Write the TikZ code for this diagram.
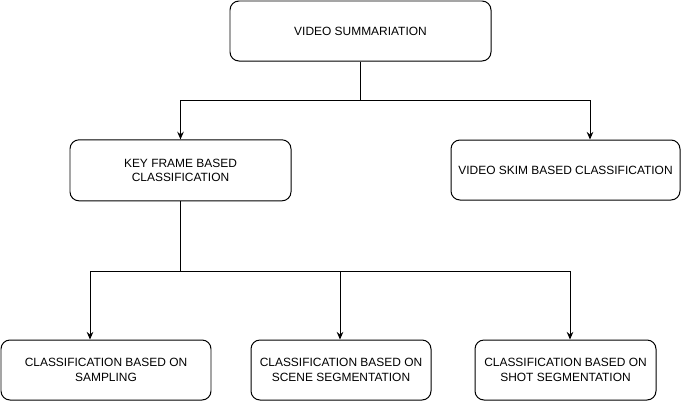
\documentclass[tikz,border=0pt]{standalone}
\usepackage{fontspec}
\setmainfont{Liberation Sans}
\usepackage{tikz}
\usetikzlibrary{arrows.meta, positioning, calc}

\begin{document}
\begin{tikzpicture}[
    box/.style={rectangle, rounded corners=0.27cm, draw, line width=0.85pt, align=center, minimum height=1.8cm, font=\fontsize{10.2}{12.4}\selectfont},
    arrow/.style={-{Stealth[length=2.3mm, width=2mm, inset=0.8mm]}, line width=0.85pt}
]
\useasboundingbox (0,0) rectangle (20.43,-12.03);

\node[box, minimum width=7.83cm] (summ) at (10.815,-0.93) {VIDEO SUMMARIATION};

\node[box, minimum width=6.63cm, minimum height=1.83cm] (keyframe) at (5.415,-5.11) {KEY FRAME BASED\\CLASSIFICATION};
\node[box, minimum width=6.87cm] (skim) at (16.965,-5.1) {VIDEO SKIM BASED CLASSIFICATION};

\node[box, minimum width=6.3cm] (sampling) at (3.18,-11.1) {CLASSIFICATION BASED ON\\SAMPLING};
\node[box, minimum width=5.4cm] (scene) at (10.23,-11.1) {CLASSIFICATION BASED ON\\SCENE SEGMENTATION};
\node[box, minimum width=5.43cm] (shot) at (16.965,-11.1) {CLASSIFICATION BASED ON\\SHOT SEGMENTATION};

\draw[arrow] (summ.south) -- ++(0,-1.17) -| (keyframe.north);
\draw[arrow] (summ.south) -- ++(0,-1.17) -| ($(skim.north)+(0.735,0)$);
\draw[arrow] (keyframe.south) -- ++(0,-2.1) -| ($(sampling.north)+(-0.48,0)$);
\draw[arrow] (keyframe.south) -- ++(0,-2.1) -| ($(scene.north)+(-0.03,0)$);
\draw[arrow] (keyframe.south) -- ++(0,-2.1) -| ($(shot.north)+(0.135,0)$);

\end{tikzpicture}
\end{document}
